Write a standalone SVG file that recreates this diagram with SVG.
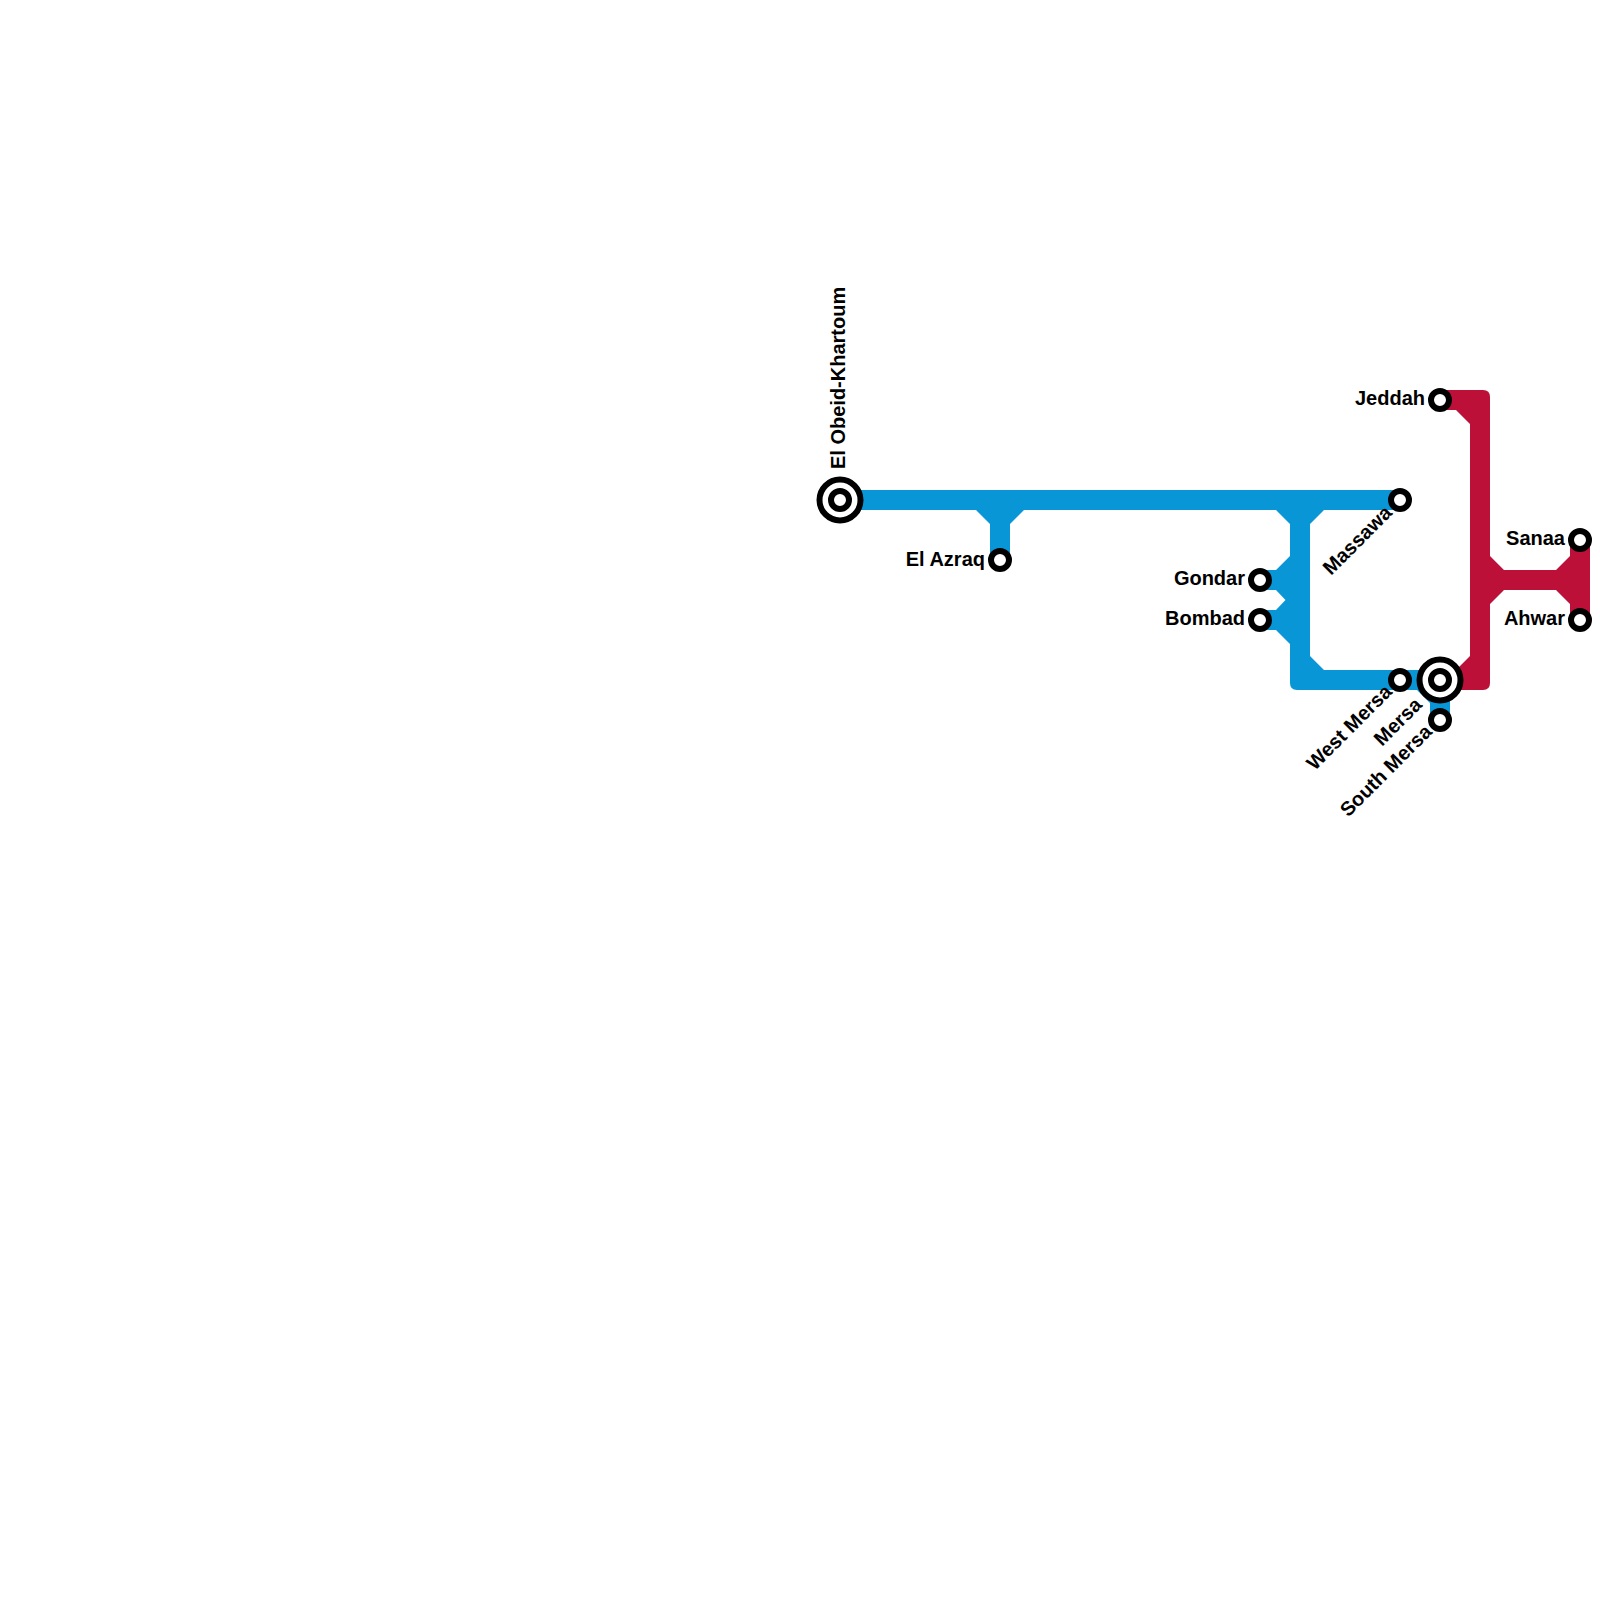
<svg xmlns="http://www.w3.org/2000/svg" width="1600" height="1600" viewBox="0 0 1600 1600">
<style>
.blue{fill:#0896d7}
.red{fill:#bc1039}
.st{fill:#fff;stroke:#000;stroke-width:6}
.tx{font-family:"Liberation Sans",Arial,sans-serif;font-weight:bold;font-size:20px;fill:#000;text-anchor:end}
</style>
<rect width="1600" height="1600" fill="#fff"/>
<g id="connectors">
<path class="blue" d="M840 490H1400V510H1324L1310 524V656L1324 670H1440V690H1297Q1290 690 1290 683V644L1276 630H1260V610H1276L1285.500 600L1276 590H1260V570H1276L1290 556V524L1276 510H1024L1010 524V560H990V524L976 510H840Z"/>
<path class="blue" d="M1417 690H1450V720H1430V703Z"/>
<path class="red" d="M1440 390H1483Q1490 390 1490 397V556L1504 570H1556L1570 556V540H1590V620H1570V604L1556 590H1504L1490 604V683Q1490 690 1483 690H1440V670H1456L1470 656V424L1456 410H1440Z"/>
</g>
<g id="st-el-obeid"><circle cx="840" cy="500" r="20.500" class="st"/><circle cx="840" cy="500" r="9" class="st"/><text class="tx" transform="translate(845 469) rotate(-90)" style="text-anchor:start">El Obeid-Khartoum</text></g>
<g id="st-el-azraq"><circle cx="1000" cy="560" r="9" class="st"/><text class="tx" x="985" y="566">El Azraq</text></g>
<g id="st-massawa"><circle cx="1400" cy="500" r="9" class="st"/><text class="tx" transform="translate(1393 514) rotate(-45)">Massawa</text></g>
<g id="st-gondar"><circle cx="1260" cy="580" r="9" class="st"/><text class="tx" x="1245" y="585">Gondar</text></g>
<g id="st-bombad"><circle cx="1260" cy="620" r="9" class="st"/><text class="tx" x="1245" y="625">Bombad</text></g>
<g id="st-west-mersa"><circle cx="1400" cy="680" r="9" class="st"/><text class="tx" transform="translate(1393 693) rotate(-45)">West Mersa</text></g>
<g id="st-mersa"><circle cx="1440" cy="680" r="20.500" class="st"/><circle cx="1440" cy="680" r="9" class="st"/><text class="tx" transform="translate(1423 706) rotate(-45)">Mersa</text></g>
<g id="st-south-mersa"><circle cx="1440" cy="720" r="9" class="st"/><text class="tx" transform="translate(1433 733) rotate(-45)">South Mersa</text></g>
<g id="st-jeddah"><circle cx="1440" cy="400" r="9" class="st"/><text class="tx" x="1425" y="405">Jeddah</text></g>
<g id="st-sanaa"><circle cx="1580" cy="540" r="9" class="st"/><text class="tx" x="1565" y="545">Sanaa</text></g>
<g id="st-ahwar"><circle cx="1580" cy="620" r="9" class="st"/><text class="tx" x="1565" y="625">Ahwar</text></g>
</svg>
